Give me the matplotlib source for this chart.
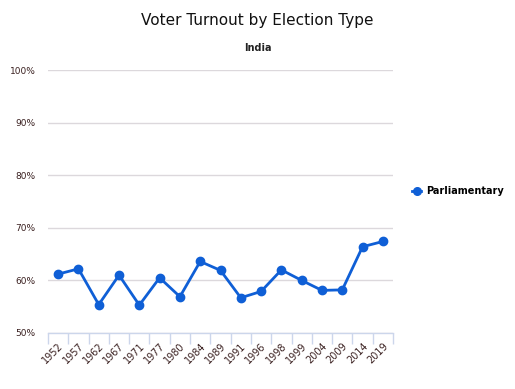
import matplotlib
matplotlib.use("Agg")
import matplotlib.pyplot as plt
from matplotlib.lines import Line2D

years = ["1952", "1957", "1962", "1967", "1971", "1977", "1980", "1984", "1989",
         "1991", "1996", "1998", "1999", "2004", "2009", "2014", "2019"]
turnout = [61.2, 62.2, 55.4, 61.0, 55.3, 60.5, 56.9, 63.6, 61.9,
           56.7, 57.9, 62.0, 60.0, 58.1, 58.2, 66.4, 67.4]
yticks = [50, 60, 70, 80, 90, 100]
series_name = "Parliamentary"

plt.rcParams["font.family"] = ["DejaVu Sans"]

W, H = 515, 389
fig = plt.figure(figsize=(W / 100, H / 100), dpi=100)
ax = fig.add_axes([48 / W, 1 - 333 / H, (393 - 48) / W, (333 - 70) / H])

color = "#0f5fd6"
xs = list(range(len(years)))
ax.plot(xs, turnout, color=color, lw=2, marker="o", ms=6, zorder=3)

ax.set_xlim(-0.5, len(years) - 0.5)
ax.set_ylim(50, 100)
ax.set_yticks(yticks)
ax.set_yticklabels([f"{v}%" for v in yticks], fontsize=6.5, color="#3a2020")
ax.yaxis.grid(True, color="#dcd8dc", lw=1)
ax.set_axisbelow(True)
ax.tick_params(axis="y", length=0, pad=9)

ax.set_xticks(xs)
ax.set_xticklabels(years, rotation=45, ha="right", rotation_mode="anchor",
                   fontsize=7, color="#3a2020")
ax.set_xticks([x - 0.5 for x in range(len(years) + 1)], minor=True)
ax.tick_params(axis="x", which="major", length=0, pad=6)
ax.tick_params(axis="x", which="minor", length=8, color="#ccd6eb", width=1)

for s in ["top", "right", "left"]:
    ax.spines[s].set_visible(False)
ax.spines["bottom"].set_color("#ccd6eb")
ax.spines["bottom"].set_linewidth(1)

fig.text(0.5, 1 - 20 / H, "Voter Turnout by Election Type", ha="center", va="center",
         fontsize=11, color="#111111")
fig.text(0.5, 1 - 48 / H, "India", ha="center", va="center", fontsize=7,
         fontweight="bold", color="#222222")

handle = Line2D([0], [0], color=color, lw=2, marker="o", ms=5.5)
fig.legend([handle], [series_name], loc="center left",
           bbox_to_anchor=(403 / W, 1 - 191 / H), frameon=False,
           prop={"size": 7, "weight": "bold"}, handlelength=1.0, handletextpad=0.5)

fig.savefig("out.png", dpi=100)
